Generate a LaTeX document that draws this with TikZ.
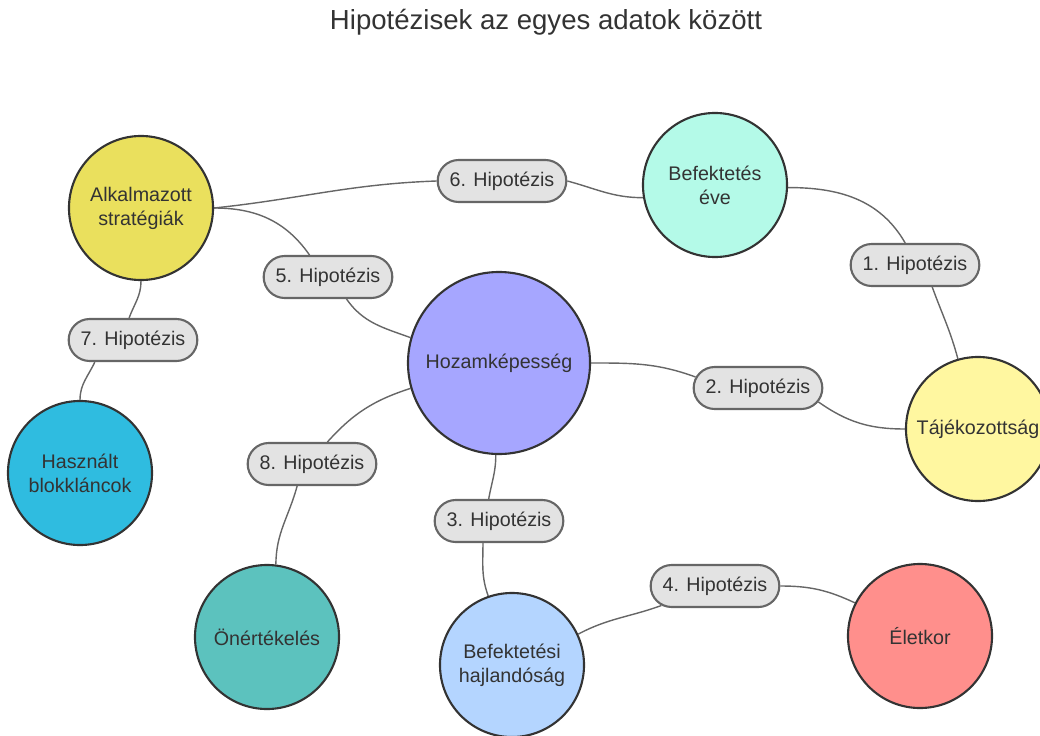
\documentclass[tikz,border=0pt]{standalone}
\usepackage{fontspec}
\setmainfont{Liberation Sans}
\usetikzlibrary{shapes.misc,backgrounds}
\definecolor{ink}{HTML}{333333}
\definecolor{pillline}{HTML}{666666}
\definecolor{pillfill}{HTML}{E3E3E3}
\definecolor{alkcol}{HTML}{EAE05D}
\definecolor{befcol}{HTML}{B4FAE8}
\definecolor{hozcol}{HTML}{A6A6FF}
\definecolor{tajcol}{HTML}{FFF7A0}
\definecolor{haszcol}{HTML}{2FBCE0}
\definecolor{onertcol}{HTML}{5CC2BE}
\definecolor{befhcol}{HTML}{B4D5FF}
\definecolor{eletcol}{HTML}{FF8F8C}
\tikzset{
  topic/.style = {circle, draw=ink, line width=1.5pt, minimum size=3.6cm,
    inner sep=0pt, align=center, text=ink,
    font=\fontsize{14}{17}\selectfont},
  hypo/.style = {rounded rectangle, draw=pillline, fill=pillfill,
    line width=1.5pt, minimum width=3.45cm, minimum height=1.05cm,
    text=ink, font=\fontsize{14}{17}\selectfont},
  link/.style = {draw=pillline, line width=1pt}
}

\begin{document}
\begin{tikzpicture}[x=0.025cm,y=0.025cm]
  \useasboundingbox (0,0) rectangle (1040,-736);
  % title
  \node[text=ink, font=\fontsize{19.6}{22}\selectfont] (title) at (546,-22)
    {Hipotézisek az egyes adatok között};
  % topics
  \node[topic, fill=alkcol] (alk) at (141,-208) {Alkalmazott\\stratégiák};
  \node[topic, fill=befcol] (bef) at (715,-185) {Befektetés\\éve};
  \node[topic, fill=hozcol, minimum size=4.55cm] (hoz) at (499,-363) {Hozamképesség};
  \node[topic, fill=tajcol] (taj) at (978,-429) {Tájékozottság};
  \node[topic, fill=haszcol] (hasz) at (80,-473) {Használt\\blokkláncok};
  \node[topic, fill=onertcol] (onert) at (267,-637) {Önértékelés};
  \node[topic, fill=befhcol] (befh) at (512,-665) {Befektetési\\hajlandóság};
  \node[topic, fill=eletcol] (elet) at (920,-636) {Életkor};
  % hypotheses
  \node[hypo] (h1) at (915,-265) {1. Hipotézis};
  \node[hypo] (h2) at (758,-388) {2. Hipotézis};
  \node[hypo] (h3) at (499,-521) {3. Hipotézis};
  \node[hypo] (h4) at (715,-586) {4. Hipotézis};
  \node[hypo] (h5) at (328,-277) {5. Hipotézis};
  \node[hypo] (h6) at (502,-181) {6. Hipotézis};
  \node[hypo] (h7) at (133,-340) {7. Hipotézis};
  \node[hypo] (h8) at (312,-464) {8. Hipotézis};
  % links
  \begin{scope}[on background layer]
    \draw[link] (alk.east) to[out=6,in=182] (h6.west);
    \draw[link] (h6.east) to[out=-15,in=180] (bef.190);
    \draw[link] (bef.358) to[out=0,in=120] (h1.114);
    \draw[link] (h1.-52) to[out=-70,in=105] (taj.106);
    \draw[link] (alk.east) to[out=0,in=125] (h5.130);
    \draw[link] (h5.-50) to[out=-55,in=160] (hoz.164);
    \draw[link] (alk.south) to[out=-90,in=70] (h7.100);
    \draw[link] (h7.-150) to[out=-115,in=90] (hasz.north);
    \draw[link] (hoz.east) to[out=0,in=160] (h2.170);
    \draw[link] (h2.-13) to[out=-35,in=180] (taj.180);
    \draw[link] (hoz.196) to[out=198,in=48] (h8.55);
    \draw[link] (h8.-124) to[out=-105,in=90] (onert.83);
    \draw[link] (hoz.-92) to[out=-90,in=80] (h3.115);
    \draw[link] (h3.-126) to[out=-90,in=110] (befh.109);
    \draw[link] (befh.25) to[out=28,in=200] (h4.-160);
    \draw[link] (h4.east) to[out=0,in=155] (elet.153);
  \end{scope}
\end{tikzpicture}
\end{document}
